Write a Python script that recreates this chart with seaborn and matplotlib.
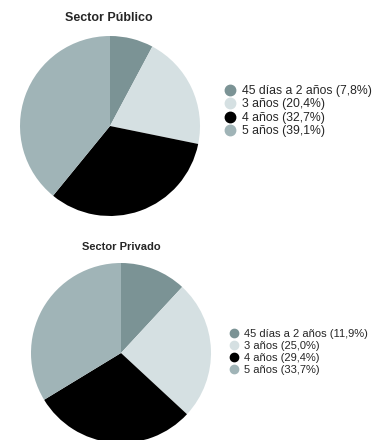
import matplotlib
matplotlib.use("Agg")
import matplotlib.pyplot as plt
from matplotlib.lines import Line2D
import seaborn as sns

categories = ["45 días a 2 años", "3 años", "4 años", "5 años"]
publico = [7.8, 20.4, 32.7, 39.1]
privado = [11.9, 25.0, 29.4, 33.7]
publico_labels = ["45 días a 2 años (7,8%)", "3 años (20,4%)", "4 años (32,7%)", "5 años (39,1%)"]
privado_labels = ["45 días a 2 años (11,9%)", "3 años (25,0%)", "4 años (29,4%)", "5 años (33,7%)"]
colors = ["#7b9395", "#d5e0e2", "#000000", "#a0b4b7"]

sns.set_theme(style="white")
plt.rcParams['font.family'] = ['Liberation Sans', 'DejaVu Sans']

W, H = 375, 440
fig = plt.figure(figsize=(W / 100, H / 100), dpi=100)

def pie_axes(cx, cy, r):
    return fig.add_axes([(cx - r) / W, 1 - (cy + r) / H, 2 * r / W, 2 * r / H])

def draw(ax, vals):
    ax.pie(vals, colors=colors, startangle=90, counterclock=False,
           wedgeprops=dict(linewidth=0), radius=1)
    ax.set_xlim(-1, 1)
    ax.set_ylim(-1, 1)
    ax.set_aspect("equal")
    ax.axis("off")

ax1 = pie_axes(110, 126, 90)
draw(ax1, publico)
fig.text(109 / W, 1 - 18 / H, "Sector Público", ha="center", va="center",
         fontsize=9, fontweight="bold")

ax2 = pie_axes(121, 353, 90)
draw(ax2, privado)
fig.text(121 / W, 1 - 247 / H, "Sector Privado", ha="center", va="center",
         fontsize=8, fontweight="bold")

def legend(labels, x, y, ms, fs, spacing, pad):
    handles = [Line2D([], [], marker="o", linestyle="", markersize=ms,
                      markerfacecolor=c, markeredgecolor=c) for c in colors]
    leg = fig.legend(handles, labels, loc="upper left",
                     bbox_to_anchor=(x / W, 1 - y / H), frameon=False,
                     handlelength=0.8, handletextpad=pad, labelspacing=spacing,
                     borderpad=0, borderaxespad=0,
                     prop=dict(size=fs))
    return leg

legend(publico_labels, 225, 85, 7.5, 8.8, 0.12, 0.6)
legend(privado_labels, 230, 329, 6, 8, 0.17, 0.5)

fig.savefig("out.png", dpi=100)
